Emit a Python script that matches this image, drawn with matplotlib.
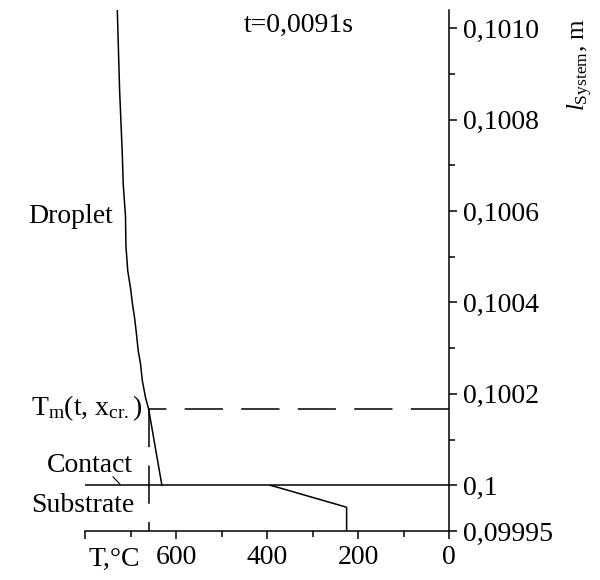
import numpy as np
import matplotlib
matplotlib.use("Agg")
import matplotlib.pyplot as plt

plt.rcParams['font.family'] = ['Liberation Serif', 'DejaVu Serif']
plt.rcParams['mathtext.fontset'] = 'custom'
plt.rcParams['mathtext.rm'] = 'Liberation Serif'
plt.rcParams['mathtext.it'] = 'Liberation Serif:italic'

# droplet temperature profile (T in degC, position in m)
droplet_T = [729, 724, 718, 716, 711, 710, 706, 700, 696, 691, 687, 683, 678, 674, 667, 660, 631]
droplet_l = [0.10104, 0.100866, 0.100724, 0.100659, 0.100589, 0.100523, 0.100469, 0.100432,
             0.100399, 0.100366, 0.100332, 0.100294, 0.100266, 0.100229, 0.100192, 0.100166, 0.1]

# substrate temperature profile
substrate_T = [393, 378, 225, 225]
substrate_l = [0.1, 0.099998, 0.099976, 0.09995]

# melting temperature and crystallisation front
T_melt = 660
l_cr = 0.100166
l_contact = 0.1

y_ticks = [0.09995, 0.1, 0.1002, 0.1004, 0.1006, 0.1008, 0.1010]
y_tick_labels = ["0,09995", "0,1", "0,1002", "0,1004", "0,1006", "0,1008", "0,1010"]
y_minor = [0.1001, 0.1003, 0.1005, 0.1007, 0.1009]
x_ticks = [800, 600, 400, 200, 0]
x_tick_labels = ["", "600", "400", "200", "0"]
x_minor = [700, 500, 300, 100]


# substrate part of the axis is stretched twice
def fwd(y):
    y = np.asarray(y, dtype=float)
    return np.where(y >= 0.1, y, 0.1 - 2 * (0.1 - y))


def inv(v):
    v = np.asarray(v, dtype=float)
    return np.where(v >= 0.1, v, 0.1 - (0.1 - v) / 2)


fig = plt.figure(figsize=(6, 5.8), dpi=100)
ax = fig.add_axes([85 / 600, 1 - 531 / 580, 364 / 600, 521 / 580])
ax.set_yscale('function', functions=(fwd, inv))

lw = 1.1
ax.plot(droplet_T, droplet_l, color='black', lw=lw)
ax.plot(substrate_T, substrate_l, color='black', lw=lw)
ax.axhline(l_contact, color='black', lw=lw)
ax.plot([0, T_melt], [l_cr, l_cr], color='black', lw=lw, dashes=(25, 12))
ax.plot([T_melt, T_melt], [l_cr, 0.09995], color='black', lw=lw, dashes=(25, 12))

ax.set_xlim(800, 0)
ax.set_ylim(0.09995, 0.10104)

ax.spines['left'].set_visible(False)
ax.spines['top'].set_visible(False)
ax.spines['right'].set_linewidth(1.1)
ax.spines['bottom'].set_linewidth(1.1)

ax.yaxis.tick_right()
ax.set_yticks(y_ticks)
ax.set_yticklabels(y_tick_labels)
ax.set_yticks(y_minor, minor=True)
ax.set_xticks(x_ticks)
ax.set_xticklabels(x_tick_labels)
ax.set_xticks(x_minor, minor=True)
ax.tick_params(which='major', length=6, width=1.1, labelsize=20, pad=4)
ax.tick_params(which='minor', length=4, width=1.1)

ax.yaxis.set_label_position('right')
ax.set_ylabel(r"$\mathit{l}_{\mathrm{System}}$, m", fontsize=18, rotation=90)
ax.yaxis.set_label_coords(1.322, 0.895)

ax.set_xlabel("T,°C", fontsize=20)
ax.xaxis.set_label_coords(0.08, -0.031)

ax.text(0.588, 0.971, "t=0,0091s", transform=ax.transAxes, fontsize=20,
        ha='center', va='center')
ax.text(0.077, 0.591, "Droplet", transform=ax.transAxes, fontsize=20,
        ha='right', va='baseline', clip_on=False)
ax.text(0.157, 0.223, r"T$_\mathrm{m}$(t, x$_\mathrm{cr.}$)", transform=ax.transAxes,
        fontsize=20, ha='right', va='baseline', clip_on=False)
ax.text(0.132, 0.113, "Contact", transform=ax.transAxes, fontsize=20,
        ha='right', va='baseline', clip_on=False)
ax.text(0.137, 0.036, "Substrate", transform=ax.transAxes, fontsize=20,
        ha='right', va='baseline', clip_on=False)
ax.plot([0.077, 0.096], [0.104, 0.090], transform=ax.transAxes, color='black',
        lw=0.8, clip_on=False)

fig.savefig("out.png", dpi=100)
